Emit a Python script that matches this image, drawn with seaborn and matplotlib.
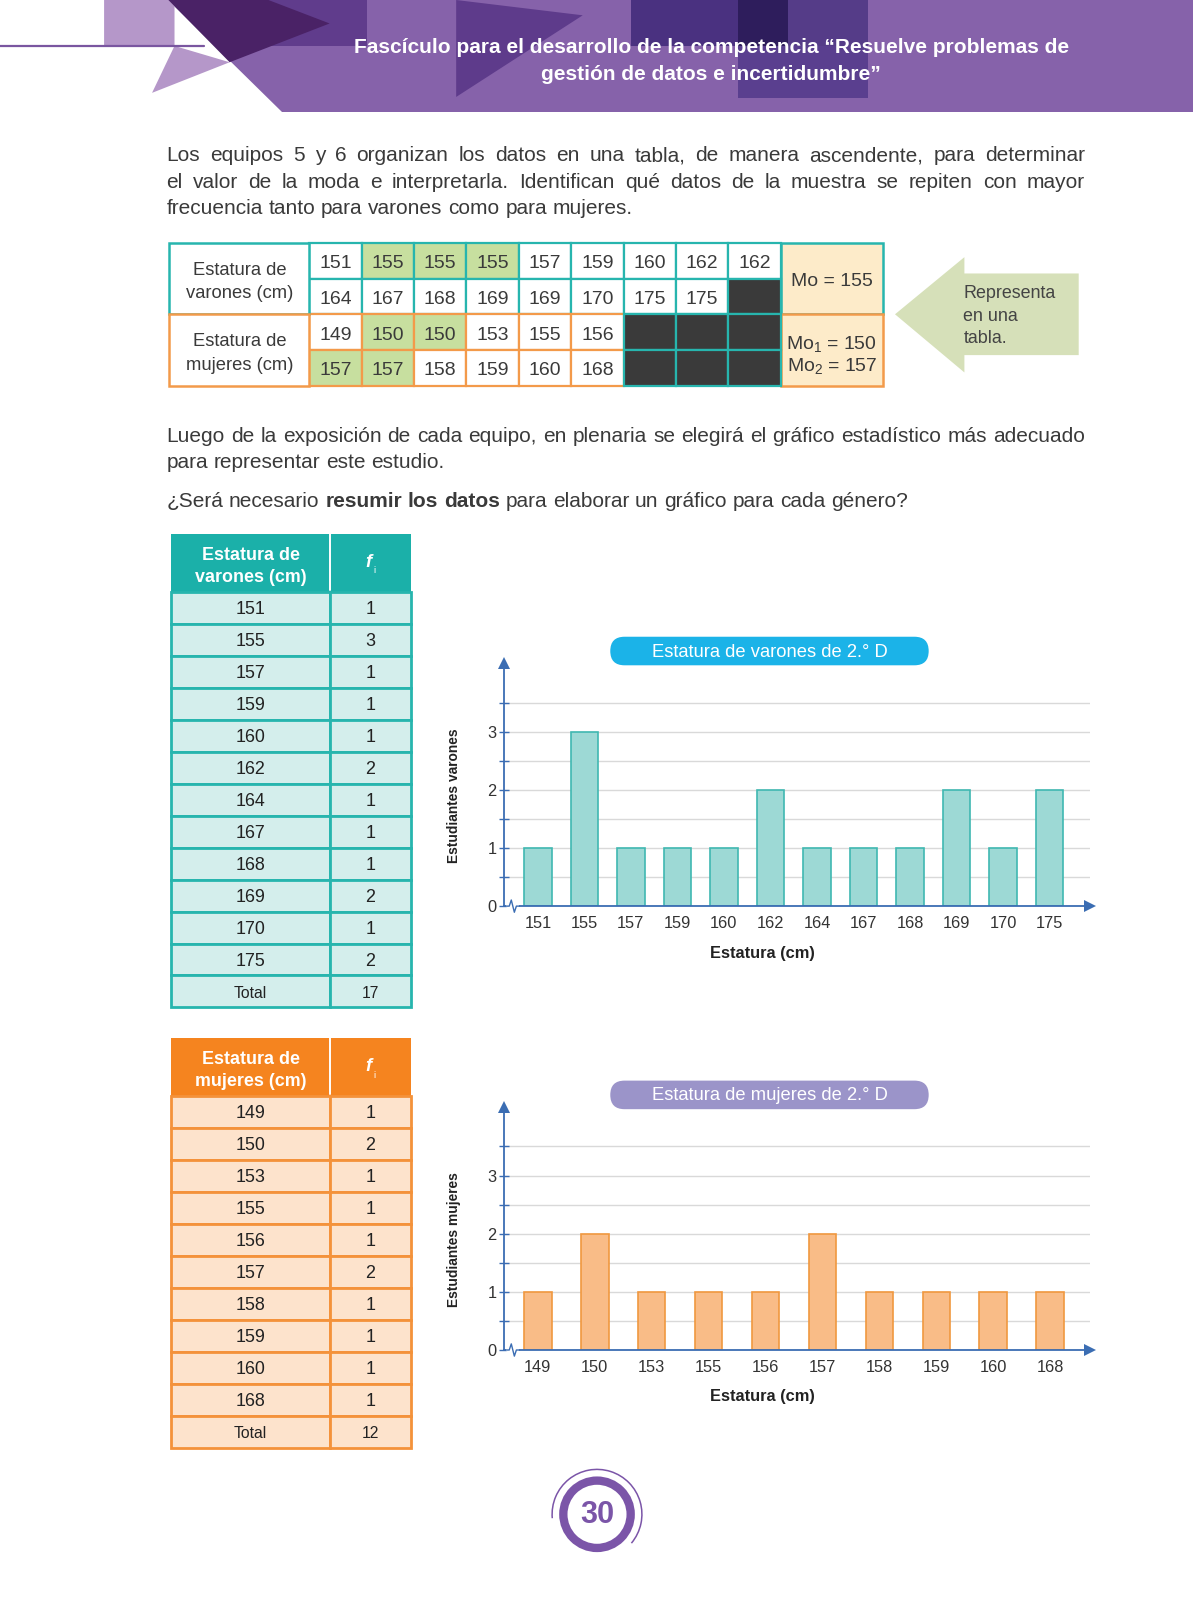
import matplotlib
matplotlib.use('Agg')
import matplotlib.pyplot as plt
import seaborn as sns
from matplotlib.patches import Rectangle, Polygon, FancyBboxPatch, Circle, Arc

# datos de la muestra (orden ascendente)
varones_raw = [151, 155, 155, 155, 157, 159, 160, 162, 162, 164, 167, 168, 169, 169, 170, 175, 175]
mujeres_raw = [149, 150, 150, 153, 155, 156, 157, 157, 158, 159, 160, 168]
moda_varones = [155]
moda_mujeres = [150, 157]

# tablas de frecuencia
varones_est = ['151', '155', '157', '159', '160', '162', '164', '167', '168', '169', '170', '175']
varones_fi = [1, 3, 1, 1, 1, 2, 1, 1, 1, 2, 1, 2]
mujeres_est = ['149', '150', '153', '155', '156', '157', '158', '159', '160', '168']
mujeres_fi = [1, 2, 1, 1, 1, 2, 1, 1, 1, 1]

sns.set_style('white')
plt.rcParams['font.family'] = ['Liberation Sans', 'DejaVu Sans']
plt.rcParams['mathtext.fontset'] = 'custom'
plt.rcParams['mathtext.rm'] = 'Liberation Sans'
plt.rcParams['mathtext.it'] = 'Liberation Sans:italic'
plt.rcParams['mathtext.bf'] = 'Liberation Sans:bold'

TXT = '#3a3a3a'
TEAL = '#27b5ae'
ORANGE = '#f39a4a'
AX = '#3b6db3'

W, H = 1169, 1568          # page units (reference shown size)
fig = plt.figure(figsize=(11.93, 16), dpi=100)
pg = fig.add_axes([0, 0, 1, 1])
pg.set_xlim(0, W)
pg.set_ylim(H, 0)
pg.axis('off')


def fs(p):
    # page units -> points
    return p * 1193 / W * 0.72


# ---------- cabecera ----------
pg.add_patch(Polygon([(165, 0), (W, 0), (W, 110), (276, 110)], color='#8662aa', lw=0))
pg.add_patch(Polygon([(102, 0), (171, 0), (171, 45), (225, 61), (149, 91), (171, 45), (102, 45)],
                     color='#b597c9', lw=0))
pg.add_patch(Rectangle((263, 0), 97, 45, color='#603c8c', lw=0))
pg.add_patch(Polygon([(165, 0), (263, 0), (323, 23), (225, 61)], color='#4a2266', lw=0))
pg.add_patch(Polygon([(447, 0), (571, 15), (447, 95)], color='#5e3b8b', lw=0))
pg.add_patch(Rectangle((618, 0), 105, 45, color='#4a3180', lw=0))
pg.add_patch(Rectangle((723, 0), 49, 45, color='#2e1d5c', lw=0))
pg.add_patch(Rectangle((772, 0), 79, 45, color='#553c88', lw=0))
pg.add_patch(Rectangle((723, 45), 128, 51, color='#5a3f8f', lw=0))
pg.plot([0, 200], [45, 45], color='#7a56a0', lw=1.6)
pg.text(697, 47, 'Fascículo para el desarrollo de la competencia “Resuelve problemas de',
        color='white', fontweight='bold', fontsize=fs(20.5), ha='center', va='center')
pg.text(697, 73, 'gestión de datos e incertidumbre”',
        color='white', fontweight='bold', fontsize=fs(20.5), ha='center', va='center')

# ---------- párrafos justificados ----------
rend = fig.canvas.get_renderer()
U = W / 1193


def width(s, size, wt):
    t = pg.text(0, 0, s, fontsize=size, fontweight=wt)
    w = t.get_window_extent(rend).width * U
    t.remove()
    return w


def put_line(yc, parts, px=20.5, justify=True, x0=163, x1=1063):
    words = [(w, wt) for txt, wt in parts for w in txt.split()]
    size = fs(px)
    while True:
        ws = [width(w, size, wt) for w, wt in words]
        sp = width('a a', size, 'normal') - width('aa', size, 'normal')
        if not justify or sum(ws) + (len(ws) - 1) * sp * 0.6 <= x1 - x0:
            break
        size *= 0.98
    gap = (x1 - x0 - sum(ws)) / (len(ws) - 1) if justify else sp
    x = x0
    for (w, wt), wd in zip(words, ws):
        pg.text(x, yc + px * 0.34, w, fontsize=size, fontweight=wt, color=TXT, ha='left', va='baseline')
        x += wd + gap


put_line(151, [('Los equipos 5 y 6 organizan los datos en una tabla, de manera ascendente, para determinar', 'normal')])
put_line(177, [('el valor de la moda e interpretarla. Identifican qué datos de la muestra se repiten con mayor', 'normal')])
put_line(203, [('frecuencia tanto para varones como para mujeres.', 'normal')], justify=False)
put_line(426, [('Luego de la exposición de cada equipo, en plenaria se elegirá el gráfico estadístico más adecuado', 'normal')])
put_line(452, [('para representar este estudio.', 'normal')], justify=False)
put_line(490, [('¿Será necesario', 'normal'), ('resumir los datos', 'bold'),
               ('para elaborar un gráfico para cada género?', 'normal')], justify=False)

# ---------- tabla de datos ordenados ----------
tx0, tlab, tcw, tmo, tx1 = 166, 303, 51.33, 765, 865
ty0, trh = 238, 35
filas = [varones_raw[:9], varones_raw[9:], mujeres_raw[:6], mujeres_raw[6:]]
modas = [moda_varones, moda_varones, moda_mujeres, moda_mujeres]
for r, (vals, mo) in enumerate(zip(filas, modas)):
    y = ty0 + r * trh
    ec = TEAL if r < 2 else ORANGE
    for c in range(9):
        x = tlab + c * tcw
        if c < len(vals):
            fc = '#c7df9f' if vals[c] in mo else 'white'
            pg.add_patch(Rectangle((x, y), tcw, trh, fc=fc, ec=ec, lw=1.6, zorder=2))
            pg.text(x + tcw / 2, y + trh / 2 + 3, str(vals[c]), fontsize=fs(19), color=TXT,
                    ha='center', va='center', zorder=4)
        else:
            pg.add_patch(Rectangle((x, y), tcw, trh, fc='#3a3a3a', ec=TEAL, lw=1.6, zorder=3))
for k, (lab, ec) in enumerate([('varones', TEAL), ('mujeres', ORANGE)]):
    y = ty0 + k * 2 * trh
    pg.add_patch(Rectangle((tx0, y), tlab - tx0, 2 * trh, fc='white', ec=ec, lw=1.8, zorder=2))
    pg.add_patch(Rectangle((tmo, y), tx1 - tmo, 2 * trh, fc='#fdebc9', ec=ec, lw=1.8, zorder=2))
    pg.text((tx0 + tlab) / 2, y + 27, 'Estatura de', fontsize=fs(18), color=TXT, ha='center', va='center')
    pg.text((tx0 + tlab) / 2, y + 50, lab + ' (cm)', fontsize=fs(18), color=TXT, ha='center', va='center')
pg.text((tmo + tx1) / 2, ty0 + 38, 'Mo = %d' % moda_varones[0], fontsize=fs(19), color=TXT,
        ha='center', va='center', zorder=4)
for i, m in enumerate(moda_mujeres):
    pg.text((tmo + tx1) / 2, ty0 + 99 + 22 * i, r'Mo$_{%d}$ = %d' % (i + 1, m), fontsize=fs(19),
            color=TXT, ha='center', va='center', zorder=4)

# flecha "Representa en una tabla."
pg.add_patch(Polygon([(877, 308), (945, 252), (945, 268), (1057, 268), (1057, 348), (945, 348), (945, 365)],
                     color='#d6e0b9', lw=0))
for i, s in enumerate(['Representa', 'en una', 'tabla.']):
    pg.text(944, 288 + 22 * i, s, fontsize=fs(17.5), color='#444444', ha='left', va='center')


# ---------- tablas de frecuencia ----------
def freq_table(top, est, fi, head, hdr, fill, edge):
    x0, xs, x1 = 168, 323, 403
    hh, rh = 55, 31.33
    pg.add_patch(Rectangle((x0, top), x1 - x0, hh + 2, fc=hdr, ec='none'))
    pg.plot([xs, xs], [top, top + hh], color='white', lw=1.4)
    pg.text((x0 + xs) / 2, top + 21, 'Estatura de', color='white', fontweight='bold',
            fontsize=fs(17.5), ha='center', va='center')
    pg.text((x0 + xs) / 2, top + 43, head, color='white', fontweight='bold',
            fontsize=fs(17.5), ha='center', va='center')
    pg.text((xs + x1) / 2 - 2, top + hh / 2 + 1, 'f', color='white', fontweight='bold', fontstyle='italic',
            fontsize=fs(18), ha='center', va='center')
    pg.text((xs + x1) / 2 + 4, top + hh / 2 + 9, 'i', color='white', fontsize=fs(9), ha='center', va='center')
    filas_t = list(zip(est, fi)) + [('Total', sum(fi))]
    for i, (e, f) in enumerate(filas_t):
        y = top + hh + 2 + i * rh
        small = e == 'Total'
        for xa, xb, s in [(x0, xs, e), (xs, x1, str(f))]:
            pg.add_patch(Rectangle((xa, y), xb - xa, rh, fc=fill, ec=edge, lw=2))
            pg.text((xa + xb) / 2, y + rh / 2 + 2, s, fontsize=fs(15.5 if small else 17.5), color='#222222',
                    ha='center', va='center')


freq_table(523, varones_est, varones_fi, 'varones (cm)', '#1bb0a9', '#d4eeec', TEAL)
freq_table(1017, mujeres_est, mujeres_fi, 'mujeres (cm)', '#f5841f', '#fde3cc', '#f4923a')


# ---------- gráficos de barras ----------
def chart(bottom, top, first, last, est, fi, bar, edge, title, pill, ylab):
    left, right = 494, 1068
    ppu = 57.0
    ax = fig.add_axes([left / W, 1 - bottom / H, (right - left) / W, (bottom - top) / H])
    ax.set_facecolor('none')
    n = len(est)
    sp = (last - first) / (n - 1)
    sns.barplot(x=est, y=fi, order=est, color=bar, saturation=1, edgecolor=edge,
                linewidth=1.2, width=27 / sp, ax=ax, zorder=3)
    ax.set_xlim(-(first - left) / sp, n - 1 + (right - last) / sp)
    ax.set_ylim(0, (bottom - top) / ppu)
    ax.set_xlabel('')
    ax.set_ylabel('')
    ax.set_yticks([0, 1, 2, 3])
    ax.set_yticks([0.5, 1.5, 2.5, 3.5], minor=True)
    ax.grid(axis='y', which='both', color='#d9d9d9', lw=1.0, zorder=0)
    ax.grid(axis='x', visible=False)
    ax.set_axisbelow(True)
    for s in ['top', 'right']:
        ax.spines[s].set_visible(False)
    for s in ['left', 'bottom']:
        ax.spines[s].set_color(AX)
        ax.spines[s].set_linewidth(1.3)
        ax.spines[s].set_zorder(4)
    ax.tick_params(axis='y', which='both', left=True, direction='inout', length=7, width=1,
                   color=AX, labelsize=fs(16), labelcolor='#333333', pad=2)
    ax.tick_params(axis='x', bottom=False, length=0, pad=7, labelsize=fs(16), labelcolor='#333333')
    ax.plot([1], [0], marker='>', transform=ax.transAxes, clip_on=False, color=AX, ms=8, mew=0, zorder=6)
    ax.plot([0], [1], marker='^', transform=ax.transAxes, clip_on=False, color=AX, ms=8, mew=0, zorder=6)
    # corte del eje
    ax.plot([497.5, 506.5], [bottom, bottom], color='white', lw=3, transform=pg.transData,
            clip_on=False, zorder=7)
    ax.plot([496, 499, 501, 504, 506, 509], [bottom, bottom, bottom - 6, bottom + 6, bottom, bottom],
            color=AX, lw=1, transform=pg.transData, clip_on=False, zorder=8)
    # título en píldora
    pg.add_patch(FancyBboxPatch((598, top - 26), 312, 28, boxstyle='round,pad=0,rounding_size=14',
                                fc=pill, ec='none'))
    pg.text(754, top - 11, title, color='white', fontsize=fs(18), ha='center', va='center')
    pg.text(445, bottom - 108, ylab, rotation=90, fontweight='bold', fontsize=fs(13.5), color='#222222',
            ha='center', va='center')
    pg.text(747, bottom + 46, 'Estatura (cm)', fontweight='bold', fontsize=fs(16), color='#222222',
            ha='center', va='center')
    return ax


chart(888, 650, 527, 1028.5, varones_est, varones_fi, '#9dd9d5', '#40b8b1',
      'Estatura de varones de 2.° D', '#1bb3e8', 'Estudiantes varones')
chart(1323, 1085, 527, 1029, mujeres_est, mujeres_fi, '#f9bc87', '#f0983f',
      'Estatura de mujeres de 2.° D', '#9b94c9', 'Estudiantes mujeres')

# ---------- número de página ----------
pg.add_patch(Circle((585, 1484), 33, fill=False, ec='#7b55a8', lw=6))
pg.add_patch(Arc((585, 1484), 88, 88, theta1=175, theta2=400, color='#7b55a8', lw=1.1))
pg.text(585, 1485, '30', color='#7b55a8', fontweight='bold', fontsize=fs(30), ha='center', va='center')

fig.savefig('out.png', dpi=100)
